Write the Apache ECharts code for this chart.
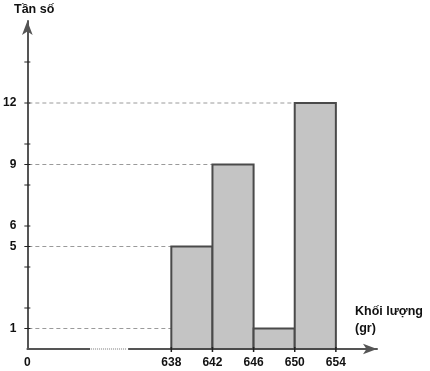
<!DOCTYPE html>
<html><head><meta charset="utf-8">
<script src="https://cdn.jsdelivr.net/npm/echarts@6/dist/echarts.min.js"></script>
<style>html,body{margin:0;padding:0;background:#fff}#c{width:430px;height:371px}</style>
</head><body><div id="c"></div>
<script>
// Data
const binEdges = [638, 642, 646, 650, 654];
const frequencies = [5, 9, 1, 12];
const xOffset = 624;            // axis break: displayed x = value - xOffset
const yTickValues = [1, 2, 4, 5, 6, 8, 9, 10, 12, 14];
const yLabelValues = [1, 5, 6, 9, 12];
const breakRange = [6.1, 9.8];  // dotted break on x axis (display units)
const yTitle = 'Tần số';
const xTitle1 = 'Khối lượng';
const xTitle2 = '(gr)';

const font = '"Liberation Sans", Arial, sans-serif';
const fw = 'bold';
const barData = frequencies.map((f, i) => [binEdges[i] - xOffset, binEdges[i + 1] - xOffset, f]);
const dashData = frequencies.map((f, i) => [binEdges[i] - xOffset, f]);
const xLabelValues = [0].concat(binEdges.map(b => b - xOffset));

const chart = echarts.init(document.getElementById('c'), null, {renderer: 'canvas'});
chart.setOption({
  animation: false,
  grid: {left: 27, right: 53, top: 21, bottom: 22, containLabel: false},
  xAxis: {
    type: 'value', min: 0, max: 34,
    splitLine: {show: false},
    axisTick: {show: false},
    axisLine: {lineStyle: {color: '#555', width: 2}, symbol: ['none', 'arrow'], symbolSize: [8, 14], symbolOffset: [0, 0]},
    axisLabel: {
      customValues: xLabelValues, margin: 8,
      color: '#111', fontSize: 12, fontWeight: fw, fontFamily: font,
      formatter: v => v === 0 ? '0' : String(v + xOffset)
    }
  },
  yAxis: {
    type: 'value', min: 0, max: 16,
    splitLine: {show: false},
    axisTick: {show: false},
    axisLine: {lineStyle: {color: '#555', width: 2}, symbol: ['none', 'arrow'], symbolSize: [8, 14], symbolOffset: [0, 0]},
    axisLabel: {customValues: yLabelValues, margin: 11, color: '#111', fontSize: 12, fontWeight: fw, fontFamily: font}
  },
  graphic: [
    {type: 'text', left: 14, top: 3, style: {text: yTitle, fontSize: 12.5, fontWeight: fw, fontFamily: font, fill: '#111'}},
    {type: 'text', left: 355, top: 305, style: {text: xTitle1, fontSize: 12.5, fontWeight: fw, fontFamily: font, fill: '#111'}},
    {type: 'text', left: 355, top: 322, style: {text: xTitle2, fontSize: 12.5, fontWeight: fw, fontFamily: font, fill: '#111'}}
  ],
  series: [
    {
      type: 'custom', z: 3,
      data: dashData,
      renderItem: (params, api) => {
        const p0 = api.coord([0, api.value(1)]);
        const p1 = api.coord([api.value(0), api.value(1)]);
        return {type: 'line', shape: {x1: p0[0] + 1, y1: p0[1], x2: p1[0], y2: p1[1]},
          style: {stroke: '#9a9a9a', lineWidth: 1, lineDash: [4, 3]}};
      }
    },
    {
      type: 'custom', z: 4,
      data: barData,
      renderItem: (params, api) => {
        const a = api.coord([api.value(0), api.value(2)]);
        const b = api.coord([api.value(1), 0]);
        return {type: 'rect', shape: {x: a[0], y: a[1], width: b[0] - a[0], height: b[1] - a[1]},
          style: {fill: '#c4c4c4', stroke: '#4a4a4a', lineWidth: 2}};
      }
    },
    {
      type: 'custom', z: 5,
      data: yTickValues.map(v => [0, v]),
      renderItem: (params, api) => {
        const p = api.coord([0, api.value(1)]);
        return {type: 'line', shape: {x1: p[0] - 3, y1: p[1], x2: p[0] + 3, y2: p[1]},
          style: {stroke: '#222', lineWidth: 1}};
      }
    },
    {
      type: 'custom', z: 5,
      data: binEdges.map(b => [b - xOffset, 0]),
      renderItem: (params, api) => {
        const p = api.coord([api.value(0), 0]);
        return {type: 'line', shape: {x1: p[0], y1: p[1] - 2, x2: p[0], y2: p[1] + 3},
          style: {stroke: '#222', lineWidth: 1.5}};
      }
    },
    {
      type: 'custom', z: 6,
      data: [[breakRange[0], breakRange[1]]],
      renderItem: (params, api) => {
        const a = api.coord([api.value(0), 0]);
        const b = api.coord([api.value(1), 0]);
        return {type: 'group', children: [
          {type: 'rect', shape: {x: a[0], y: a[1] - 2, width: b[0] - a[0], height: 4}, style: {fill: '#fff'}},
          {type: 'line', shape: {x1: a[0] + 1, y1: a[1], x2: b[0] - 1, y2: b[1]},
            style: {stroke: '#777', lineWidth: 1, lineDash: [1, 1]}}
        ]};
      }
    }
  ]
});
</script></body></html>
